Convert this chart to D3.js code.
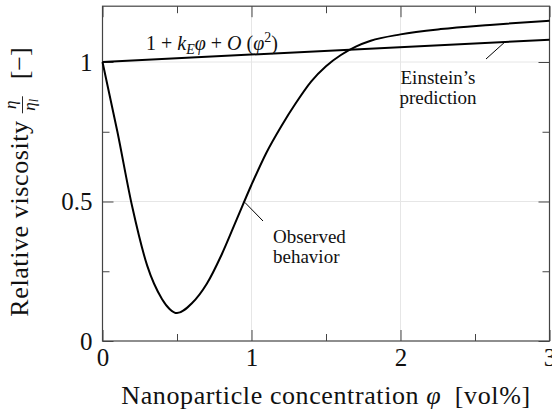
<!DOCTYPE html>
<html>
<head>
<meta charset="utf-8">
<script src="https://cdn.jsdelivr.net/npm/d3@7"></script>
<style>
  html, body { margin: 0; padding: 0; background: #fff; }
  svg text { font-family: "Liberation Serif", "Times New Roman", "DejaVu Serif", serif; fill: #111; }
</style>
</head>
<body>
<svg id="chart" width="552" height="414"></svg>
<script>
// observed viscosity curve
const phiObserved = [0, 0.10, 0.20, 0.30, 0.40, 0.45, 0.50, 0.60, 0.70, 0.80, 0.90, 1.00, 1.10, 1.20, 1.30, 1.40, 1.50, 1.60, 1.70, 1.80, 2.0, 2.27, 2.6, 3.0];
const etaObserved = [1.0, 0.75, 0.48, 0.27, 0.15, 0.115, 0.10, 0.135, 0.205, 0.31, 0.435, 0.56, 0.675, 0.77, 0.855, 0.93, 0.985, 1.025, 1.055, 1.076, 1.099, 1.118, 1.133, 1.148];

// Einstein's linear prediction
const phiEinstein = [0, 3];
const etaEinstein = [1, 1.08];

const xMajor = [0, 1, 2, 3];
const xMinor = [0.5, 1.5, 2.5];
const xTickLabels = ["0", "1", "2", "3"];
const yMajor = [0, 0.5, 1];
const yMinor = [0.25, 0.75];
const yTickLabels = ["0", "0.5", "1"];

const svg = d3.select("#chart");

const x = d3.scaleLinear().domain([0, 3]).range([102.5, 549.5]);
const y = d3.scaleLinear().domain([0, 1.2]).range([341, 6.2]);

// grid
const grid = svg.append("g").attr("stroke", "#e6e6e6").attr("stroke-width", 1);
grid.selectAll(".gx").data(xMajor.slice(1, 3)).join("line")
  .attr("x1", d => x(d)).attr("x2", d => x(d))
  .attr("y1", y(0)).attr("y2", y(1.2));
grid.selectAll(".gy").data(yMajor.slice(1)).join("line")
  .attr("x1", x(0)).attr("x2", x(3))
  .attr("y1", d => y(d)).attr("y2", d => y(d));

// axes, ticks pointing inwards
function styleAxis(g) {
  g.select(".domain").remove();
  g.attr("font-family", null);
  g.selectAll(".tick line").attr("stroke", "#444");
  g.selectAll("text").attr("font-size", 25).attr("fill", "#111");
}
const byIndex = (vals, labels) => d => labels[vals.indexOf(d)];

svg.append("g").attr("transform", `translate(0,${y(0)})`)
  .call(d3.axisBottom(x).tickValues(xMajor).tickFormat(byIndex(xMajor, xTickLabels)).tickSize(-11).tickPadding(7))
  .call(styleAxis);
svg.append("g").attr("transform", `translate(0,${y(0)})`)
  .call(d3.axisBottom(x).tickValues(xMinor).tickFormat("").tickSize(-7))
  .call(styleAxis);
svg.append("g").attr("transform", `translate(0,${y(1.2)})`)
  .call(d3.axisTop(x).tickValues(xMajor).tickFormat("").tickSize(-11))
  .call(styleAxis);
svg.append("g").attr("transform", `translate(0,${y(1.2)})`)
  .call(d3.axisTop(x).tickValues(xMinor).tickFormat("").tickSize(-7))
  .call(styleAxis);

svg.append("g").attr("transform", `translate(${x(0)},0)`)
  .call(d3.axisLeft(y).tickValues(yMajor).tickFormat(byIndex(yMajor, yTickLabels)).tickSize(-11).tickPadding(10))
  .call(styleAxis);
svg.append("g").attr("transform", `translate(${x(0)},0)`)
  .call(d3.axisLeft(y).tickValues(yMinor).tickFormat("").tickSize(-7))
  .call(styleAxis);
svg.append("g").attr("transform", `translate(${x(3)},0)`)
  .call(d3.axisRight(y).tickValues(yMajor).tickFormat("").tickSize(-11))
  .call(styleAxis);
svg.append("g").attr("transform", `translate(${x(3)},0)`)
  .call(d3.axisRight(y).tickValues(yMinor).tickFormat("").tickSize(-7))
  .call(styleAxis);

// frame
svg.append("rect")
  .attr("x", x(0)).attr("y", y(1.2))
  .attr("width", x(3) - x(0)).attr("height", y(0) - y(1.2))
  .attr("fill", "none").attr("stroke", "#444").attr("stroke-width", 1.2);

// curves
const line = d3.line().x(d => x(d[0])).y(d => y(d[1]));
svg.append("path")
  .datum(d3.zip(phiEinstein, etaEinstein))
  .attr("d", line)
  .attr("fill", "none").attr("stroke", "#000").attr("stroke-width", 2);
svg.append("path")
  .datum(d3.zip(phiObserved, etaObserved))
  .attr("d", line.curve(d3.curveMonotoneX))
  .attr("fill", "none").attr("stroke", "#000").attr("stroke-width", 2);

// annotations
const ann = svg.append("g").attr("font-size", 19);
ann.append("line").attr("x1", x(0.955)).attr("y1", y(0.497)).attr("x2", 263).attr("y2", 221)
  .attr("stroke", "#000").attr("stroke-width", 1);
ann.append("text").attr("x", 273).attr("y", 243).text("Observed");
ann.append("text").attr("x", 273).attr("y", 263).text("behavior");

ann.append("line").attr("x1", 505).attr("y1", y(1 + 0.08 * (505 - x(0)) / (x(3) - x(0)))).attr("x2", 486).attr("y2", 59)
  .attr("stroke", "#000").attr("stroke-width", 1);
ann.append("text").attr("x", 438).attr("y", 84).attr("text-anchor", "middle").text("Einstein’s");
ann.append("text").attr("x", 438).attr("y", 104).attr("text-anchor", "middle").text("prediction");

// formula above the Einstein line
const f = svg.append("text").attr("x", 146).attr("y", 50).attr("font-size", 20);
f.append("tspan").text("1 + ");
f.append("tspan").attr("font-style", "italic").text("k");
f.append("tspan").attr("font-style", "italic").attr("font-size", 14).attr("dy", 4).text("E");
f.append("tspan").attr("font-style", "italic").attr("dy", -4).text("φ");
f.append("tspan").text(" + ");
f.append("tspan").attr("font-style", "italic").text("O");
f.append("tspan").text(" (");
f.append("tspan").attr("font-style", "italic").text("φ");
f.append("tspan").attr("font-size", 14).attr("dy", -8).text("2");
f.append("tspan").attr("dy", 8).text(")");

// x axis title
svg.append("text")
  .attr("x", x(1.5)).attr("y", 404).attr("text-anchor", "middle").attr("font-size", 26)
  .attr("letter-spacing", 0.6)
  .call(t => {
    t.append("tspan").text("Nanoparticle concentration ");
    t.append("tspan").attr("font-style", "italic").text("φ");
    t.append("tspan").text("\u2002[vol%]");
  });

// y axis title with fraction, rotated
const yt = svg.append("g").attr("transform", `translate(28,182) rotate(-90)`);
const p1 = yt.append("text").attr("font-size", 26).attr("letter-spacing", 0.6).text("Relative viscosity");
const w1 = p1.node().getComputedTextLength();
const num = yt.append("text").attr("font-size", 17).attr("font-style", "italic").attr("y", -12).attr("text-anchor", "middle").text("η");
const den = yt.append("text").attr("font-size", 17).attr("font-style", "italic").attr("y", 7).attr("text-anchor", "middle");
den.append("tspan").text("η");
den.append("tspan").attr("font-size", 12).attr("dy", 3).text("l");
const fw = 17, gapA = 7, gapB = 17;
const bar = yt.append("line").attr("y1", -5.5).attr("y2", -5.5).attr("stroke", "#111").attr("stroke-width", 0.9);
const p3 = yt.append("text").attr("font-size", 26).text("[−]");
const w3 = p3.node().getComputedTextLength();
const total = w1 + gapA + fw + gapB + w3;
const x0 = -total / 2;
const fx = x0 + w1 + gapA;
p1.attr("x", x0);
num.attr("x", fx + fw / 2);
den.attr("x", fx + fw / 2);
bar.attr("x1", fx).attr("x2", fx + fw);
p3.attr("x", fx + fw + gapB);
</script>
</body>
</html>
